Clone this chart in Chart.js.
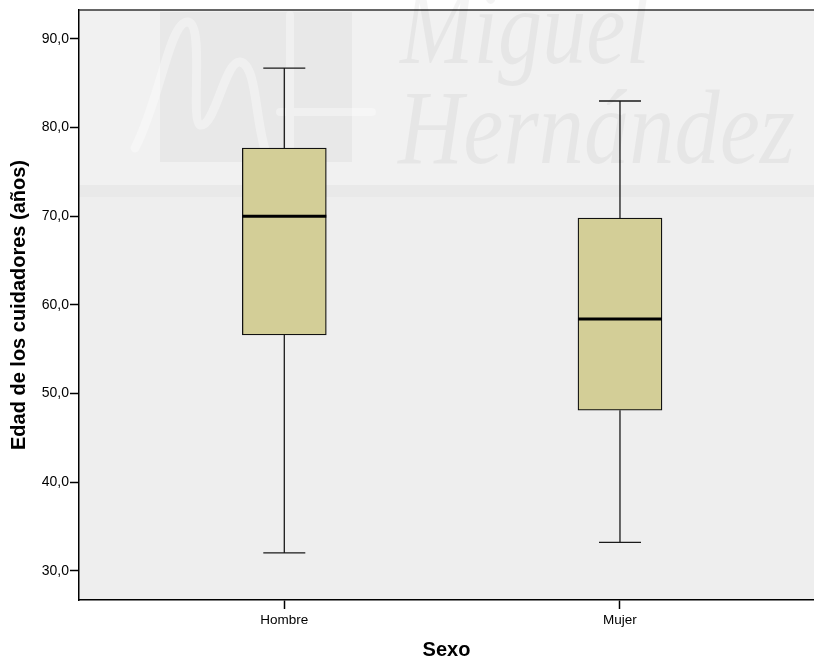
<!DOCTYPE html>
<html><head><meta charset="utf-8">
<script src="https://cdn.jsdelivr.net/npm/chart.js@4/dist/chart.umd.min.js"></script>
<style>html,body{margin:0;padding:0;background:#fff}#wrap{width:814px;height:659px}</style>
</head><body><div id="wrap"><canvas id="c" width="814" height="659"></canvas></div>
<script>
const categories = ['Hombre', 'Mujer'];
const categoryPos = [1, 2];
const minimum = [32.0, 33.2];
const q1 = [56.6, 48.1];
const median = [70.0, 58.4];
const q3 = [77.7, 69.8];
const maximum = [86.7, 83.0];
const yTicks = [30, 40, 50, 60, 70, 80, 90];

const FONT = "'Liberation Sans', Arial, sans-serif";
const BOX_W = 84, CAP_W = 42;

const boxExtras = {
  id: 'boxExtras',
  beforeDraw(chart) {
    const {ctx, chartArea: a} = chart;
    ctx.save();
    ctx.fillStyle = '#ffffff';
    ctx.fillRect(0, 0, chart.width, chart.height);
    ctx.fillStyle = '#eeeeee';
    ctx.fillRect(a.left, a.top, a.right - a.left, a.bottom - a.top);
    // lighter upper band of the watermark
    ctx.fillStyle = '#f1f1f1';
    ctx.fillRect(a.left, a.top, a.right - a.left, 185 - a.top);
    ctx.fillStyle = '#e9e9e9';
    ctx.fillRect(a.left, 185, a.right - a.left, 12);
    // logo block
    ctx.fillStyle = 'rgba(0,0,0,0.035)';
    ctx.fillRect(160, 12, 192, 150);
    ctx.strokeStyle = 'rgba(255,255,255,0.35)';
    ctx.lineWidth = 9;
    ctx.lineCap = 'round';
    ctx.beginPath();
    ctx.moveTo(135, 148);
    ctx.bezierCurveTo(160, 100, 170, 20, 188, 22);
    ctx.bezierCurveTo(205, 25, 190, 120, 200, 125);
    ctx.bezierCurveTo(215, 128, 225, 60, 240, 62);
    ctx.bezierCurveTo(258, 64, 255, 130, 268, 158);
    ctx.stroke();
    ctx.lineWidth = 8;
    ctx.beginPath();
    ctx.moveTo(290, 15); ctx.lineTo(290, 160);
    ctx.moveTo(280, 112); ctx.lineTo(372, 112);
    ctx.stroke();
    ctx.restore();
  },
  afterDatasetsDraw(chart) {
    const {ctx, scales: {x, y}} = chart;
    ctx.save();
    ctx.strokeStyle = '#1a1a1a';
    ctx.lineWidth = 1.3;
    categoryPos.forEach((p, i) => {
      const cx = x.getPixelForValue(p);
      ctx.beginPath();
      ctx.moveTo(cx, y.getPixelForValue(q3[i]));
      ctx.lineTo(cx, y.getPixelForValue(maximum[i]));
      ctx.moveTo(cx, y.getPixelForValue(q1[i]));
      ctx.lineTo(cx, y.getPixelForValue(minimum[i]));
      ctx.moveTo(cx - CAP_W / 2, y.getPixelForValue(maximum[i]));
      ctx.lineTo(cx + CAP_W / 2, y.getPixelForValue(maximum[i]));
      ctx.moveTo(cx - CAP_W / 2, y.getPixelForValue(minimum[i]));
      ctx.lineTo(cx + CAP_W / 2, y.getPixelForValue(minimum[i]));
      ctx.stroke();
    });
    ctx.strokeStyle = '#000';
    ctx.lineWidth = 3;
    categoryPos.forEach((p, i) => {
      const cx = x.getPixelForValue(p);
      const my = y.getPixelForValue(median[i]);
      ctx.beginPath();
      ctx.moveTo(cx - BOX_W / 2, my);
      ctx.lineTo(cx + BOX_W / 2, my);
      ctx.stroke();
    });
    ctx.restore();
  },
  afterDraw(chart) {
    const {ctx, chartArea: a} = chart;
    ctx.save();
    // top frame line
    ctx.strokeStyle = '#333';
    ctx.lineWidth = 1.5;
    ctx.beginPath();
    ctx.moveTo(a.left, a.top);
    ctx.lineTo(a.right, a.top);
    ctx.stroke();
    // watermark text
    ctx.fillStyle = 'rgba(0,0,0,0.045)';
    ctx.font = "italic 105px 'Liberation Serif', 'DejaVu Serif', serif";
    ctx.textBaseline = 'alphabetic';
    const drawFit = (t, x0, base, w) => {
      const m = ctx.measureText(t).width;
      ctx.save();
      ctx.translate(x0, base);
      ctx.scale(w / m, 1);
      ctx.fillText(t, 0, 0);
      ctx.restore();
    };
    drawFit('Miguel', 400, 63, 250);
    drawFit('Hernández', 398, 163, 397);
    ctx.restore();
  }
};

new Chart(document.getElementById('c'), {
  type: 'bar',
  data: {
    datasets: [{
      data: categories.map((c, i) => ({x: categoryPos[i], y: [q1[i], q3[i]]})),
      backgroundColor: '#d3ce97',
      borderColor: '#111',
      borderWidth: 1.3,
      borderSkipped: false,
      barThickness: BOX_W
    }]
  },
  options: {
    responsive: false,
    animation: false,
    devicePixelRatio: 1,
    layout: {padding: {top: 10, right: 0, left: 0, bottom: 0}},
    plugins: {legend: {display: false}, tooltip: {enabled: false}},
    scales: {
      x: {
        type: 'linear',
        offset: false,
        min: 0.3884,
        max: 2.578,
        afterBuildTicks: s => { s.ticks = categoryPos.map(v => ({value: v})); },
        afterFit: s => { s.height = 59; },
        ticks: {
          callback: v => { const k = categoryPos.indexOf(v); return k >= 0 ? categories[k] : ''; },
          font: {family: FONT, size: 13.5},
          color: '#000',
          padding: 3,
          autoSkip: false,
          maxRotation: 0
        },
        grid: {offset: false, drawOnChartArea: false, tickLength: 9, tickColor: '#000', tickWidth: 1.5},
        border: {color: '#000', width: 1.5},
        title: {
          display: true, text: 'Sexo', color: '#000',
          font: {family: FONT, size: 20, weight: 'bold', lineHeight: 0.9},
          padding: {top: 0, bottom: 0}
        }
      },
      y: {
        type: 'linear',
        min: 26.69,
        max: 93.27,
        afterBuildTicks: s => { s.ticks = yTicks.map(v => ({value: v})); },
        afterFit: s => { s.width = 79; },
        ticks: {
          callback: v => Number(v).toFixed(1).replace('.', ','),
          font: {family: FONT, size: 14},
          color: '#000',
          padding: 1
        },
        grid: {drawOnChartArea: false, tickLength: 9, tickColor: '#000', tickWidth: 1.5},
        border: {color: '#000', width: 1.5},
        title: {
          display: true, text: 'Edad de los cuidadores (años)', color: '#000',
          font: {family: FONT, size: 20, weight: 'bold'},
          padding: {top: 7.5, bottom: 0}
        }
      }
    }
  },
  plugins: [boxExtras]
});
</script>
</body></html>
